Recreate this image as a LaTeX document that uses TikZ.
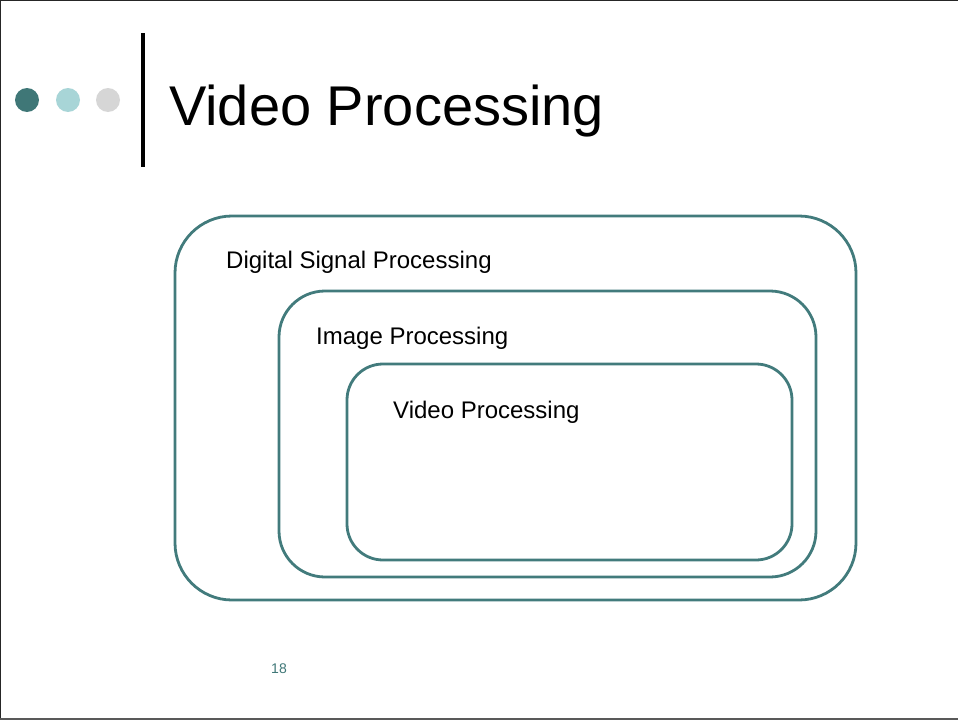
\documentclass[tikz,border=0pt]{standalone}
\usepackage{fontspec}
\setmainfont{Liberation Sans}
\definecolor{tealdark}{HTML}{3F7777}
\definecolor{teallight}{HTML}{A8D5D7}
\definecolor{dotgray}{HTML}{D6D6D6}
\definecolor{boxline}{HTML}{427B7C}
\tikzset{
  box/.style={draw=boxline, line width=2.8pt},
  boxlabel/.style={anchor=west, inner sep=0pt, font=\fontsize{24}{28}\selectfont},
}
\begin{document}
\begin{tikzpicture}[x=1pt,y=-1pt]
    \useasboundingbox (0,0) rectangle (958,720);
    % slide frame
    \draw[line width=2pt, black!85] (0,720) -- (0,0) -- (958,0);
    \draw[line width=2pt, black!65] (0,719) -- (958,719);
    % header dots and bar
    \fill[tealdark] (27,100) circle (12);
    \fill[teallight] (68,100) circle (12);
    \fill[dotgray] (108,100) circle (12);
    \draw[line width=3.2pt] (143,33) -- (143,167);
    \node[anchor=base west, inner sep=0pt, font=\fontsize{56}{60}\selectfont] (title) at (169,125) {Video Processing};
    % nested boxes
    \draw[box, rounded corners=57] (175,216) rectangle (856,600);
    \draw[box, rounded corners=46] (279,291) rectangle (816,577);
    \draw[box, rounded corners=36] (347,364) rectangle (792,560);
    \node[boxlabel] (dsp) at (226,262) {Digital Signal Processing};
    \node[boxlabel] (ip) at (316,338) {Image Processing};
    \node[boxlabel] (vp) at (393,412) {Video Processing};
    % page number
    \node[inner sep=0pt, text=tealdark, font=\fontsize{14}{16}\selectfont] (page) at (279,669) {18};
\end{tikzpicture}
\end{document}
